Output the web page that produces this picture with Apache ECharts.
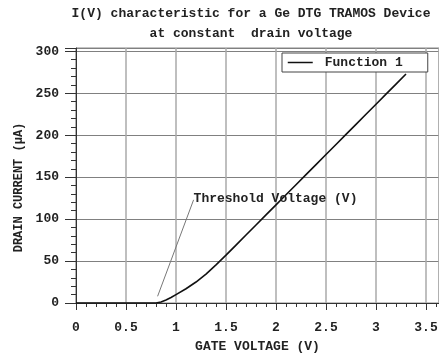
<!DOCTYPE html>
<html><head><meta charset="utf-8">
<script src="https://cdn.jsdelivr.net/npm/echarts@6/dist/echarts.min.js"></script>
<style>html,body{margin:0;padding:0;background:#fff}#c{width:439px;height:354px}</style>
</head><body><div id="c"></div>
<script>
const gateVoltage = [0, 0.1, 0.2, 0.3, 0.4, 0.5, 0.6, 0.7, 0.8, 0.85, 0.9, 0.95, 1.0, 1.1, 1.2, 1.3, 1.4, 1.5, 1.6, 1.7, 1.8, 1.9, 2.0, 2.1, 2.2, 2.3, 2.4, 2.5, 2.6, 2.7, 2.8, 2.9, 3.0, 3.1, 3.2, 3.3];
const drainCurrent = [0, 0, 0, 0, 0, 0, 0, 0, 0, 1.2, 3.5, 6.5, 10, 17, 25, 34.5, 45.5, 57, 69, 81, 93, 105, 117, 129, 141, 153, 165, 177, 189, 201, 213, 225, 237, 249, 261, 273];
const annotationLine = [[0.816, 8], [1.176, 123]];
const annotationText = 'Threshold Voltage (V)';
const seriesName = 'Function 1';

const FONT = 'Liberation Mono';
const TXT = '#222';
const chart = echarts.init(document.getElementById('c'));
chart.setOption({
  animation: false,
  title: {
    text: 'I(V) characteristic for a Ge DTG TRAMOS Device\nat constant  drain voltage',
    left: 246, top: -1, textAlign: 'center',
    textStyle: {fontFamily: FONT, fontSize: 13, fontWeight: 'bold', color: TXT, lineHeight: 20}
  },
  legend: {
    data: [{name: seriesName, itemStyle: {opacity: 0}}], left: 282, top: 53,
    backgroundColor: '#fff', borderColor: '#444', borderWidth: 1,
    padding: [3, 25, 3, 5], itemWidth: 25, itemHeight: 13, borderRadius: 0,
    itemStyle: {opacity: 0},
    lineStyle: {color: '#111', width: 1.5},
    textStyle: {fontFamily: FONT, fontSize: 13, fontWeight: 'bold', color: TXT, padding: [0, 0, 0, 7]}
  },
  grid: {left: 76, right: 0, top: 48, bottom: 51, show: true, borderColor: '#888', borderWidth: 1,
    containLabel: false, outerBoundsMode: 'none'},
  xAxis: {
    type: 'value', min: 0, max: 3.63, interval: 0.5,
    name: 'GATE VOLTAGE (V)', nameLocation: 'middle', nameGap: 37,
    nameTextStyle: {fontFamily: FONT, fontSize: 13, fontWeight: 'bold', color: TXT},
    axisLine: {lineStyle: {color: '#333'}},
    axisTick: {show: true, length: 7, lineStyle: {color: '#333'}},
    minorTick: {show: true, splitNumber: 5, length: 4, lineStyle: {color: '#333'}},
    axisLabel: {margin: 18, showMaxLabel: false, fontFamily: FONT, fontSize: 13, fontWeight: 'bold', color: TXT,
      formatter: v => (Math.abs(v * 2 - Math.round(v * 2)) < 1e-6 ? String(v) : '')},
    splitLine: {show: true, lineStyle: {color: '#aaa', width: 1.5}}
  },
  yAxis: {
    type: 'value', min: 0, max: 304, interval: 50,
    name: 'DRAIN CURRENT (\u00b5A)', nameLocation: 'middle', nameGap: 51, nameRotate: 90,
    nameTextStyle: {fontFamily: FONT, fontSize: 12, fontWeight: 'bold', color: TXT, padding: [0, 24, 0, 0]},
    axisLine: {show: true, lineStyle: {color: '#333'}},
    axisTick: {show: true, length: 11, lineStyle: {color: '#333'}},
    minorTick: {show: true, splitNumber: 5, length: 5, lineStyle: {color: '#333'}},
    axisLabel: {margin: 17, showMaxLabel: false, fontFamily: FONT, fontSize: 13, fontWeight: 'bold', color: TXT,
      formatter: v => (v % 50 === 0 ? String(v) : '')},
    splitLine: {show: true, lineStyle: {color: '#808080', width: 1}}
  },
  series: [{
    name: seriesName, type: 'line', symbol: 'none', smooth: false,
    data: gateVoltage.map((v, i) => [v, drainCurrent[i]]),
    lineStyle: {color: '#111', width: 1.6},
    itemStyle: {color: '#111'},
    markLine: {
      silent: true, symbol: 'none', animation: false,
      lineStyle: {color: '#777', width: 1, type: 'solid'},
      label: {show: false},
      data: [[{coord: annotationLine[0]}, {coord: annotationLine[1]}]]
    },
    markPoint: {
      silent: true, symbol: 'circle', symbolSize: 0,
      data: [{coord: [annotationLine[1][0], annotationLine[1][1] + 1.5],
        label: {show: true, position: 'right', distance: 0, formatter: annotationText,
          fontFamily: FONT, fontSize: 13, fontWeight: 'bold', color: TXT}}]
    }
  }]
});
</script></body></html>
